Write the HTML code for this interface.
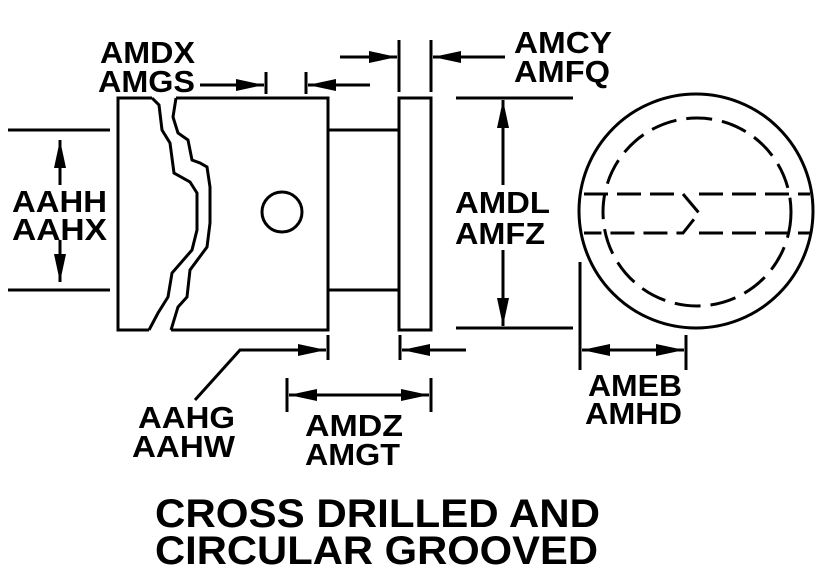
<!DOCTYPE html>
<html><head><style>body{margin:0;background:#fff}svg{display:block}text{font-family:"Liberation Sans",Arial,sans-serif;font-weight:bold;fill:#000}</style></head><body>
<svg width="822" height="574" viewBox="0 0 822 574" xmlns="http://www.w3.org/2000/svg">
<defs>
<marker id="b" viewBox="0 0 10 10" refX="10" refY="5" markerWidth="28" markerHeight="12" markerUnits="userSpaceOnUse" orient="auto-start-reverse" preserveAspectRatio="none"><path d="M0,0L10,5L0,10z"/></marker></defs>
<g fill="none" stroke="#000" stroke-width="3">
<path d="M152,98H118V330H149M176,98H328V330H171"/>
<path d="M152,98L159,105L162,130L170,143L174,173L190,182L197,193L197,230L192,250L172,273L168,297L158,313L149,330"/>
<path d="M176,98L173,117L178,133L188,140L192,160L200,163L207,167L210,187L210,223L207,247L190,270L187,297L178,307L171,330"/>
<circle cx="282" cy="212" r="20"/>
<path d="M328,130H399M328,290H399"/>
<rect x="399" y="98" width="32" height="232"/>
<circle cx="696" cy="211" r="117"/>
<circle cx="697" cy="212" r="94" stroke-dasharray="26 10"/>
<path d="M584,194H683L699,213L683,233H584M699,194H810M699,233H810" stroke-dasharray="24 9"/>
<path d="M8,130H110M8,290H110"/>
<path d="M60,185V140" marker-end="url(#b)"/><path d="M60,240V282" marker-end="url(#b)"/>
<path d="M200,85H264" marker-end="url(#b)"/><path d="M266,72V94M306,72V94"/><path d="M370,85H308" marker-end="url(#b)"/>
<path d="M340,57H397" marker-end="url(#b)"/><path d="M399,40V92M431,40V92"/><path d="M505,57H433" marker-end="url(#b)"/>
<path d="M456,98H573M456,328H573"/>
<path d="M503,185V100" marker-end="url(#b)"/><path d="M503,250V326" marker-end="url(#b)"/>
<path d="M328,335V360M400,335V360"/>
<path d="M195,400L240,350H326" marker-end="url(#b)"/><path d="M466,350H402" marker-end="url(#b)"/>
<path d="M287,378V412M431,378V412"/>
<path d="M359,395H289" marker-end="url(#b)"/><path d="M359,395H429" marker-end="url(#b)"/>
<path d="M580,262V370M686,335V370"/>
<path d="M633,350H582" marker-end="url(#b)"/><path d="M633,350H684" marker-end="url(#b)"/>
</g>
<g font-size="31" lengthAdjust="spacingAndGlyphs">
<text x="100" y="63" textLength="95" lengthAdjust="spacingAndGlyphs">AMDX</text><text x="98" y="92" textLength="97" lengthAdjust="spacingAndGlyphs">AMGS</text>
<text x="514" y="53" textLength="98" lengthAdjust="spacingAndGlyphs">AMCY</text><text x="514" y="82" textLength="96" lengthAdjust="spacingAndGlyphs">AMFQ</text>
<text x="12" y="212" textLength="95" lengthAdjust="spacingAndGlyphs">AAHH</text><text x="12" y="240" textLength="95" lengthAdjust="spacingAndGlyphs">AAHX</text>
<text x="455" y="213" textLength="95" lengthAdjust="spacingAndGlyphs">AMDL</text><text x="455" y="244" textLength="90" lengthAdjust="spacingAndGlyphs">AMFZ</text>
<text x="138" y="428" textLength="97" lengthAdjust="spacingAndGlyphs">AAHG</text><text x="132" y="457" textLength="103" lengthAdjust="spacingAndGlyphs">AAHW</text>
<text x="305" y="436" textLength="98" lengthAdjust="spacingAndGlyphs">AMDZ</text><text x="305" y="465" textLength="95" lengthAdjust="spacingAndGlyphs">AMGT</text>
<text x="588" y="396" textLength="94" lengthAdjust="spacingAndGlyphs">AMEB</text><text x="585" y="424" textLength="97" lengthAdjust="spacingAndGlyphs">AMHD</text>
</g>
<g font-size="40"><text x="155" y="527" textLength="445" lengthAdjust="spacingAndGlyphs">CROSS DRILLED AND</text><text x="155" y="564" textLength="443" lengthAdjust="spacingAndGlyphs">CIRCULAR GROOVED</text></g>
</svg></body></html>
